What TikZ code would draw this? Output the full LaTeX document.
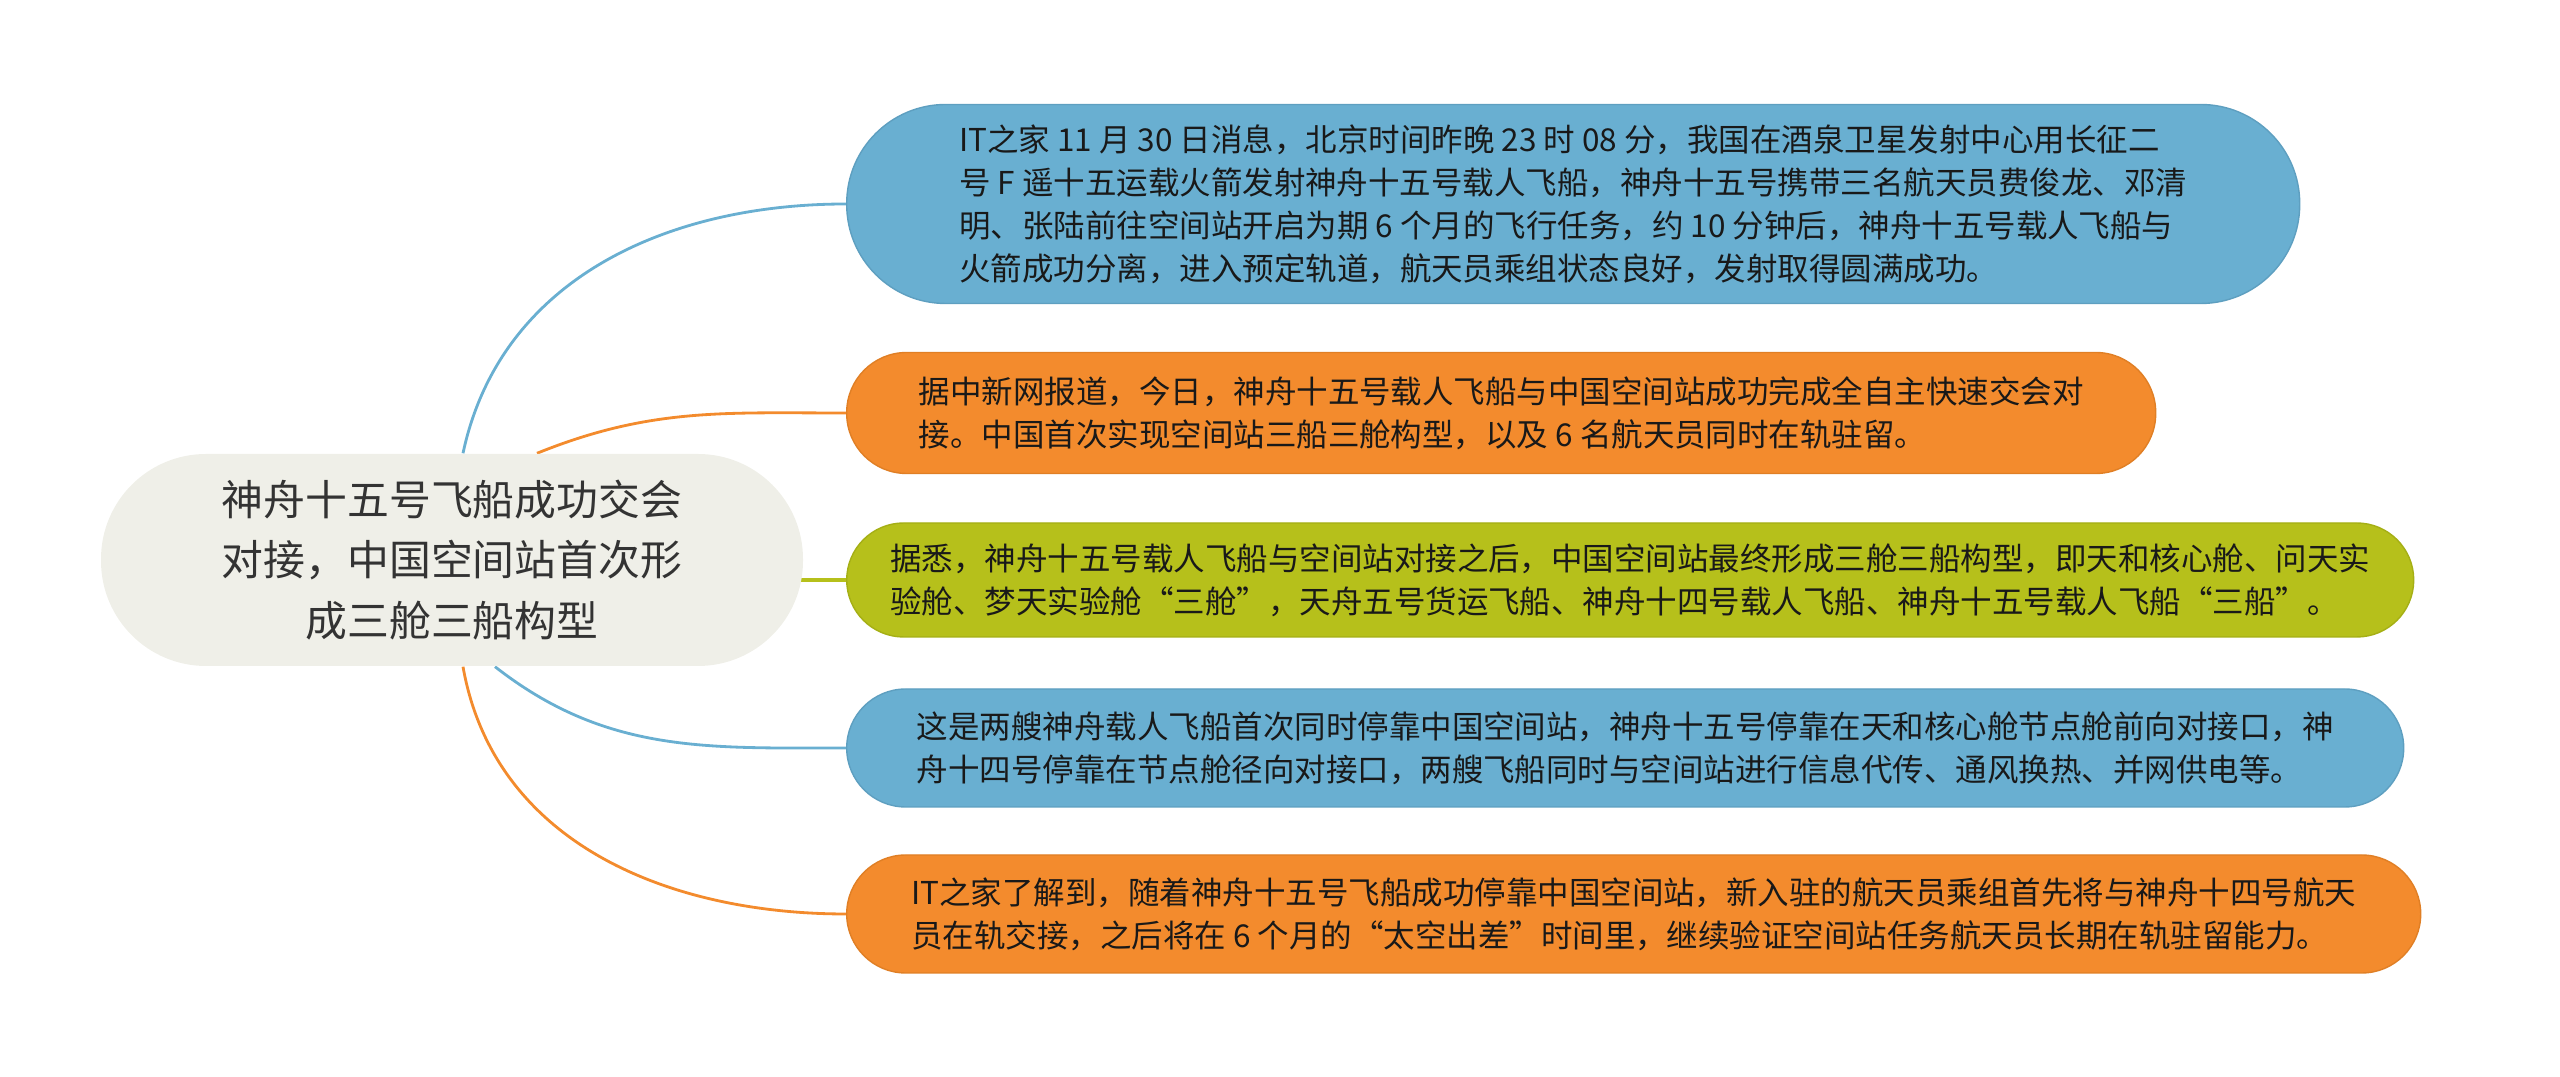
\documentclass[tikz,border=0pt]{standalone}
\usepackage{fontspec}
\setmainfont{Noto Sans CJK SC}
\usepackage{tikz}
\usetikzlibrary{backgrounds}
\definecolor{rootFill}{HTML}{EFEFE8}
\definecolor{newsBlue}{HTML}{69AFD1}
\definecolor{newsBlueBd}{HTML}{5E9FC0}
\definecolor{newsOrange}{HTML}{F38B2D}
\definecolor{newsOrangeBd}{HTML}{E07F25}
\definecolor{newsGreen}{HTML}{B6C01B}
\definecolor{newsGreenBd}{HTML}{A5AF15}
\tikzset{
  topic/.style={
    rectangle, rounded corners=1.05cm, fill=rootFill,
    minimum width=7.02cm, minimum height=2.12cm,
    align=center, font=\fontsize{11.9}{17.1}\selectfont,
    text=black!80, inner sep=0pt
  },
  news/.style={
    rectangle, rounded corners=0.59cm, line width=0.4pt,
    minimum height=1.18cm, anchor=west,
    align=left, font=\fontsize{8.96}{12.2}\selectfont,
    text=black!90, inner sep=0pt
  },
  newsB/.style={news, fill=newsBlue,   draw=newsBlueBd},
  newsO/.style={news, fill=newsOrange, draw=newsOrangeBd},
  newsG/.style={news, fill=newsGreen,  draw=newsGreenBd},
  link/.style={line width=0.8pt}
}

\begin{document}
\begin{tikzpicture}[x=1cm,y=1cm]
  \useasboundingbox (0,0) rectangle (25.6,10.77);

  % central topic
  \node[topic] (root) at (4.52,5.17)
    {神舟十五号飞船成功交会\\对接，中国空间站首次形\\成三舱三船构型};

  % news branches
  \node[newsB, minimum width=14.53cm, minimum height=1.99cm, rounded corners=0.99cm] (launch) at (8.46,8.73)
    {IT之家 11 月 30 日消息，北京时间昨晚 23 时 08 分，我国在酒泉卫星发射中心用长征二\\
     号 F 遥十五运载火箭发射神舟十五号载人飞船，神舟十五号携带三名航天员费俊龙、邓清\\
     明、张陆前往空间站开启为期 6 个月的飞行任务，约 10 分钟后，神舟十五号载人飞船与\\
     火箭成功分离，进入预定轨道，航天员乘组状态良好，发射取得圆满成功。};
  \node[newsO, minimum width=13.09cm, minimum height=1.21cm, rounded corners=0.6cm] (docking) at (8.46,6.64)
    {据中新网报道，今日，神舟十五号载人飞船与中国空间站成功完成全自主快速交会对\\
     接。中国首次实现空间站三船三舱构型，以及 6 名航天员同时在轨驻留。};
  \node[newsG, minimum width=15.67cm, minimum height=1.14cm, rounded corners=0.57cm] (config) at (8.46,4.97)
    {据悉，神舟十五号载人飞船与空间站对接之后，中国空间站最终形成三舱三船构型，即天和核心舱、问天实\\
     验舱、梦天实验舱“三舱”，天舟五号货运飞船、神舟十四号载人飞船、神舟十五号载人飞船“三船”。};
  \node[newsB, minimum width=15.57cm] (ports) at (8.46,3.29)
    {这是两艘神舟载人飞船首次同时停靠中国空间站，神舟十五号停靠在天和核心舱节点舱前向对接口，神\\
     舟十四号停靠在节点舱径向对接口，两艘飞船同时与空间站进行信息代传、通风换热、并网供电等。};
  \node[newsO, minimum width=15.74cm] (handover) at (8.46,1.63)
    {IT之家了解到，随着神舟十五号飞船成功停靠中国空间站，新入驻的航天员乘组首先将与神舟十四号航天\\
     员在轨交接，之后将在 6 个月的“太空出差”时间里，继续验证空间站任务航天员长期在轨驻留能力。};

  % connectors behind the topic
  \begin{scope}[on background layer]
    \draw[link, draw=newsBlue]   ([xshift=0.11cm]root.north) to[out=78,in=180] (launch.west);
    \draw[link, draw=newsOrange] ([xshift=0.85cm]root.north) to[out=22,in=180] (docking.west);
    \draw[link, draw=newsGreen, line width=1pt] (root.center |- config.west) -- (config.west);
    \draw[link, draw=newsBlue]   ([xshift=0.43cm]root.south) to[out=-38,in=180] (ports.west);
    \draw[link, draw=newsOrange] ([xshift=0.11cm]root.south) to[out=-80,in=180] (handover.west);
  \end{scope}
\end{tikzpicture}
\end{document}
